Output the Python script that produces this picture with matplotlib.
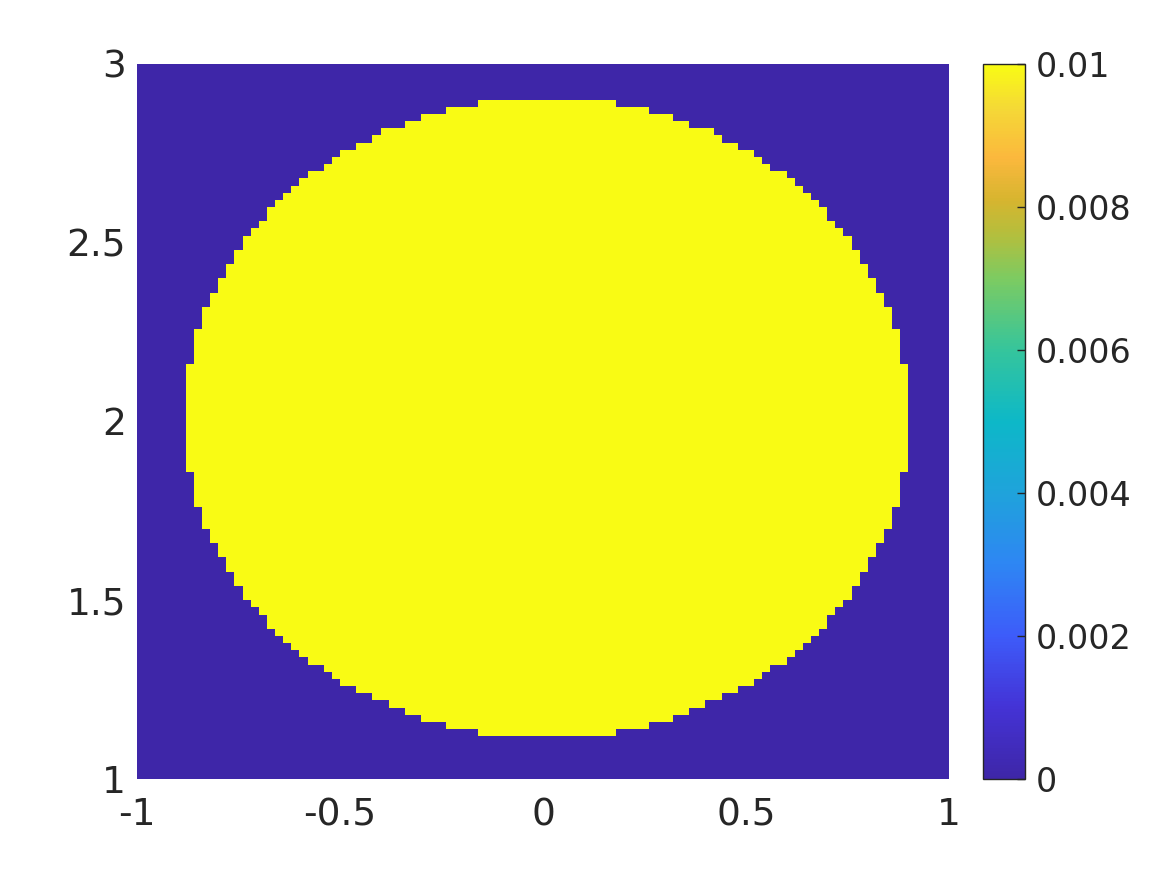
import numpy as np
import matplotlib
matplotlib.use("Agg")
import matplotlib.pyplot as plt
from matplotlib.colors import LinearSegmentedColormap

plt.rcParams['font.family'] = ['DejaVu Sans']

# grid and field
x_nodes = np.linspace(-1, 1, 101)
y_nodes = np.linspace(1, 3, 101)
center = (0.0, 2.0)
radius_sq = 0.8
inside_value = 0.01
outside_value = 0.0

x_ticks = [-1, -0.5, 0, 0.5, 1]
x_ticklabels = ['-1', '-0.5', '0', '0.5', '1']
y_ticks = [1, 1.5, 2, 2.5, 3]
y_ticklabels = ['1', '1.5', '2', '2.5', '3']
cb_ticks = [0, 0.002, 0.004, 0.006, 0.008, 0.01]
cb_ticklabels = ['0', '0.002', '0.004', '0.006', '0.008', '0.01']

# parula-like colormap
parula_pos = [0.0, 0.1, 0.2, 0.3, 0.4, 0.5, 0.6, 0.7, 0.76, 0.81, 0.87, 0.94, 1.0]
parula_col = ['#3e26a8', '#4433d6', '#3d5cfa', '#2e86f3', '#1fa3db', '#0db8c8',
              '#35c59c', '#7ccb62', '#b2bf3e', '#d6b52f', '#fbb83d', '#f5d936', '#f9fb14']
parula = LinearSegmentedColormap.from_list('parula', list(zip(parula_pos, parula_col)))

X, Y = np.meshgrid(x_nodes, y_nodes)
Z = np.where((X - center[0])**2 + (Y - center[1])**2 < radius_sq, inside_value, outside_value)

fig = plt.figure(figsize=(11.67, 8.75), dpi=100)
ax = fig.add_axes([0.1174, 0.1097, 0.6958, 0.8172])
cax = fig.add_axes([0.8423, 0.1097, 0.036, 0.8172])

# MATLAB pcolor style: each cell takes the value of its lower-left node
mesh = ax.pcolormesh(x_nodes, y_nodes, Z[:-1, :-1], cmap=parula, vmin=0, vmax=0.01, shading='flat')
ax.set_xlim(-1, 1)
ax.set_ylim(1, 3)
ax.set_xticks(x_ticks)
ax.set_xticklabels(x_ticklabels)
ax.set_yticks(y_ticks)
ax.set_yticklabels(y_ticklabels)
ax.tick_params(length=0, labelsize=27, colors='#262626')
ax.tick_params(axis='x', pad=13)
ax.tick_params(axis='y', pad=8)
for s in ax.spines.values():
    s.set_visible(False)

cb = fig.colorbar(mesh, cax=cax, ticks=cb_ticks)
cb.ax.set_yticklabels(cb_ticklabels)
cb.ax.tick_params(direction='in', length=6, width=1, labelsize=24, colors='#262626', pad=8)
cb.outline.set_linewidth(1)
cb.outline.set_edgecolor('#262626')

fig.savefig('out.png', dpi=100)
